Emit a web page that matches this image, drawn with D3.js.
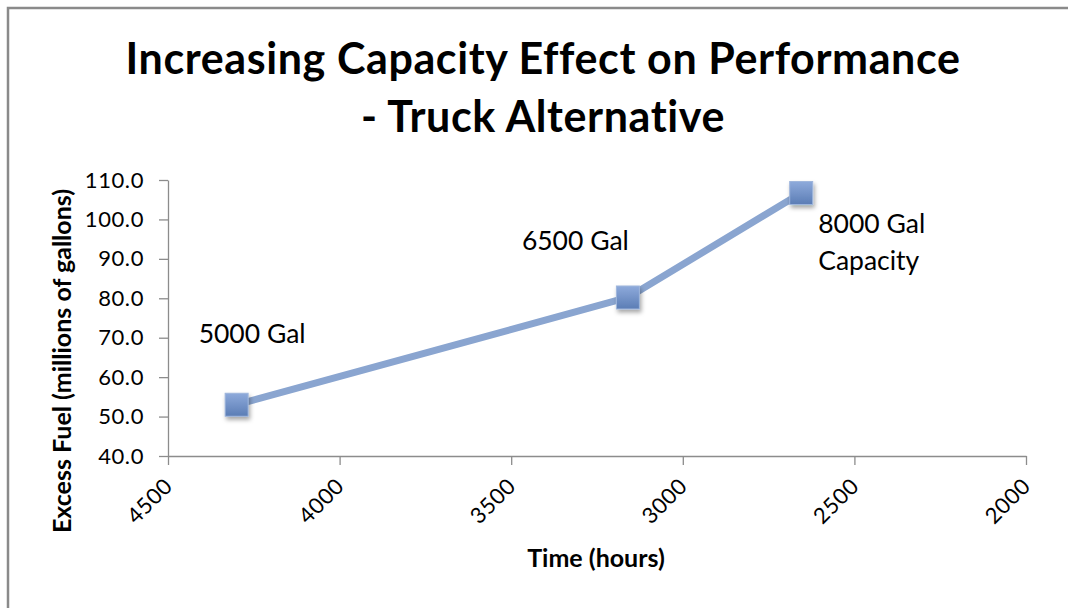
<!DOCTYPE html>
<html>
<head>
<meta charset="utf-8">
<script src="https://cdn.jsdelivr.net/npm/d3@7"></script>
<style>
  body { margin: 0; background: #fff; }
  svg { display: block; font-family: Lato, "Open Sans", sans-serif; }
</style>
</head>
<body>
<div id="chart"></div>
<script>
// data
var hours = [4300, 3160, 2655];
var excessFuel = [53.0, 80.2, 106.7];
var capacityLabels = [["5000 Gal"], ["6500 Gal"], ["8000 Gal", "Capacity"]];
var xTicks = [4500, 4000, 3500, 3000, 2500, 2000];
var yTicks = [40, 50, 60, 70, 80, 90, 100, 110];
var titleLines = ["Increasing Capacity Effect on Performance", "- Truck Alternative"];

// label placement relative to each marker
var labelOffsets = [[-38, -62], [-106, -47], [17, 40]];

var width = 1068, height = 608;
var axisColor = "#8c8c8c";
var lineColor = "#8aa5d0";

var svg = d3.select("#chart").append("svg")
    .attr("width", width)
    .attr("height", height);

var defs = svg.append("defs");
var grad = defs.append("linearGradient")
    .attr("id", "markerFill")
    .attr("x1", 0).attr("y1", 0).attr("x2", 0).attr("y2", 1);
grad.append("stop").attr("offset", "0%").attr("stop-color", "#8eaadb");
grad.append("stop").attr("offset", "100%").attr("stop-color", "#5b7db5");

var shadow = defs.append("filter").attr("id", "shadow")
    .attr("x", "-50%").attr("y", "-50%").attr("width", "200%").attr("height", "200%");
shadow.append("feDropShadow")
    .attr("dx", 1.5).attr("dy", 3).attr("stdDeviation", 2)
    .attr("flood-color", "#000").attr("flood-opacity", 0.35);

// outer frame (runs off the right and bottom edges)
svg.append("rect")
    .attr("x", 8).attr("y", 8)
    .attr("width", width + 20).attr("height", height + 20)
    .attr("fill", "none")
    .attr("stroke", "#8a8a8a")
    .attr("stroke-width", 2.5);

// title
svg.append("g").selectAll("text")
    .data(titleLines)
    .enter().append("text")
    .attr("x", 543)
    .attr("y", function (d, i) { return 74 + i * 58; })
    .attr("text-anchor", "middle")
    .attr("font-weight", "bold")
    .attr("font-size", 43)
    .attr("letter-spacing", 0.6)
    .attr("fill", "#000")
    .text(function (d) { return d; });

var x = d3.scaleLinear()
    .domain([4500, 2000])
    .range([168, 1026]);

var y = d3.scaleLinear()
    .domain([40, 110])
    .range([456, 180]);

// y axis
var yAxis = svg.append("g")
    .attr("transform", "translate(" + x.range()[0] + ",0)")
    .call(d3.axisLeft(y)
        .tickValues(yTicks)
        .tickSize(9)
        .tickSizeOuter(0)
        .tickPadding(15)
        .tickFormat(d3.format(".1f")));

// x axis
var xAxis = svg.append("g")
    .attr("transform", "translate(0," + y.range()[0] + ")")
    .call(d3.axisBottom(x)
        .tickValues(xTicks)
        .tickSize(9)
        .tickSizeOuter(0)
        .tickFormat(d3.format("d")));

xAxis.selectAll(".tick text")
    .attr("text-anchor", "end")
    .attr("dy", "0.35em")
    .attr("transform", "translate(0,26) rotate(-45)")
    .attr("y", 0)
    .attr("x", 0);

[yAxis, xAxis].forEach(function (a) {
    a.select(".domain").attr("stroke", axisColor).attr("stroke-width", 1.3);
    a.selectAll(".tick line").attr("stroke", axisColor).attr("stroke-width", 1.3);
    a.selectAll(".tick text")
        .attr("font-family", "Lato, 'Open Sans', sans-serif")
        .attr("font-size", 22)
        .attr("letter-spacing", 0.6)
        .attr("fill", "#000");
});

// axis titles
svg.append("text")
    .attr("transform", "translate(71,361) rotate(-90)")
    .attr("text-anchor", "middle")
    .attr("font-weight", "bold")
    .attr("font-size", 25)
    .text("Excess Fuel (millions of gallons)");

svg.append("text")
    .attr("x", 596)
    .attr("y", 567)
    .attr("text-anchor", "middle")
    .attr("font-weight", "bold")
    .attr("font-size", 25)
    .text("Time (hours)");

// series
var points = hours.map(function (h, i) { return [h, excessFuel[i]]; });

var line = d3.line()
    .x(function (d) { return x(d[0]); })
    .y(function (d) { return y(d[1]); });

svg.append("path")
    .datum(points)
    .attr("d", line)
    .attr("fill", "none")
    .attr("stroke", lineColor)
    .attr("stroke-width", 7)
    .attr("stroke-linejoin", "round");

var ms = 23;
svg.append("g").selectAll("rect")
    .data(points)
    .enter().append("rect")
    .attr("x", function (d) { return x(d[0]) - ms / 2; })
    .attr("y", function (d) { return y(d[1]) - ms / 2; })
    .attr("width", ms)
    .attr("height", ms)
    .attr("fill", "url(#markerFill)")
    .attr("stroke", "#9fb6dc")
    .attr("stroke-width", 1)
    .attr("filter", "url(#shadow)");

// capacity labels
var lbl = svg.append("g").selectAll("text")
    .data(points)
    .enter().append("text")
    .attr("font-size", 26.5)
    .attr("fill", "#000")
    .attr("x", function (d, i) { return x(d[0]) + labelOffsets[i][0]; })
    .attr("y", function (d, i) { return y(d[1]) + labelOffsets[i][1]; });

lbl.each(function (d, i) {
    var t = d3.select(this);
    capacityLabels[i].forEach(function (s, j) {
        t.append("tspan")
            .attr("x", x(d[0]) + labelOffsets[i][0])
            .attr("dy", j === 0 ? 0 : 37)
            .text(s);
    });
});
</script>
</body>
</html>
